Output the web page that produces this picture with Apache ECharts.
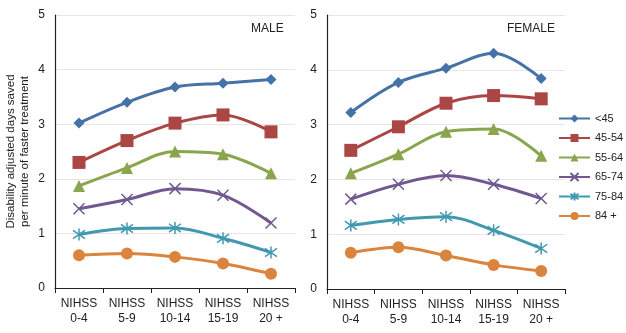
<!DOCTYPE html>
<html><head><meta charset="utf-8">
<script src="https://cdn.jsdelivr.net/npm/echarts@6/dist/echarts.min.js"></script>
<style>html,body{margin:0;padding:0;background:#fff}#c{width:626px;height:333px}</style>
</head><body><div id="c"></div>
<script>
const categories = ['NIHSS\n0-4','NIHSS\n5-9','NIHSS\n10-14','NIHSS\n15-19','NIHSS\n20 +'];
const groups = ['<45','45-54','55-64','65-74','75-84','84 +'];
const yTicks = [0,1,2,3,4,5];
const male_lt45   = [3.02,3.40,3.68,3.75,3.82];
const male_45_54  = [2.30,2.70,3.02,3.17,2.86];
const male_55_64  = [1.87,2.20,2.50,2.45,2.10];
const male_65_74  = [1.45,1.62,1.82,1.70,1.19];
const male_75_84  = [0.98,1.09,1.10,0.91,0.65];
const male_84p    = [0.60,0.63,0.57,0.45,0.26];
const female_lt45  = [3.22,3.77,4.03,4.30,3.84];
const female_45_54 = [2.53,2.96,3.39,3.53,3.47];
const female_55_64 = [2.11,2.46,2.87,2.92,2.43];
const female_65_74 = [1.64,1.91,2.07,1.91,1.65];
const female_75_84 = [1.16,1.27,1.32,1.07,0.74];
const female_84p   = [0.66,0.76,0.61,0.44,0.33];

const maleData = [male_lt45,male_45_54,male_55_64,male_65_74,male_75_84,male_84p];
const femaleData = [female_lt45,female_45_54,female_55_64,female_65_74,female_75_84,female_84p];
const colors = ['#4572A7','#AA4643','#89A54E','#71588F','#4198AF','#DB843D'];
const symbols = ['diamond','rect','triangle',
  'path://M0,0L10,10M10,0L0,10',
  'path://M5,0L5,10M1.5,1.5L8.5,8.5M8.5,1.5L1.5,8.5',
  'circle'];
const symSizes = [11,13,12,11,12,12];
const font = 'Liberation Sans, Arial, sans-serif';

function mkSeries(data, gi){
  return data.map((d,i)=>({
    name: groups[i], type:'line', smooth:0.35, xAxisIndex:gi, yAxisIndex:gi,
    data:d, symbol:symbols[i], symbolSize:symSizes[i],
    lineStyle:{color:colors[i], width:3},
    itemStyle:{color:(i===3||i===4)?'transparent':colors[i], borderColor:colors[i], borderWidth:(i===3||i===4)?1.5:0},
    emphasis:{disabled:true}, z: 10 - i
  }));
}
function xAx(gi){
  return {type:'category', gridIndex:gi, data:categories, boundaryGap:true,
    axisLine:{lineStyle:{color:'#222', width:1.2}},
    axisTick:{show:true, length:5, lineStyle:{color:'#222'}},
    axisLabel:{color:'#222', fontFamily:font, fontSize:12, lineHeight:15, margin:8, interval:0}};
}
function yAx(gi, withName){
  const o = {type:'value', gridIndex:gi, min:yTicks[0], max:yTicks[yTicks.length-1], interval:1,
    axisLine:{show:true, lineStyle:{color:'#222', width:1.2}},
    axisTick:{show:false},
    splitLine:{lineStyle:{color:'#e6e6e6'}},
    axisLabel:{color:'#222', fontFamily:font, fontSize:12, margin:10}};
  if(withName){
    o.name = 'Disability adjusted days saved\nper minute of faster treatment';
    o.nameLocation = 'middle'; o.nameGap = 23;
    o.nameTextStyle = {color:'#222', fontFamily:font, fontSize:11.5, lineHeight:14};
  }
  return o;
}
const chart = echarts.init(document.getElementById('c'), null, {renderer:'canvas'});
chart.setOption({
  animation:false,
  color: colors,
  grid:[{left:55, top:15, width:240, height:273},{left:327, top:15, width:238, height:274}],
  xAxis:[xAx(0), xAx(1)],
  yAxis:[yAx(0,true), yAx(1,false)],
  legend:{data:groups, orient:'vertical', left:553, top:108, itemWidth:31, itemHeight:10, itemGap:8.5,
    textStyle:{color:'#222', fontFamily:font, fontSize:11}, selectedMode:false, padding:[5,0,5,5]},
  graphic:[
    {type:'text', left:251, top:23, style:{text:'MALE', font:'12px '+font, fill:'#222'}},
    {type:'text', left:507, top:23, style:{text:'FEMALE', font:'12px '+font, fill:'#222'}}
  ],
  series: mkSeries(maleData,0).concat(mkSeries(femaleData,1))
});
</script></body></html>
